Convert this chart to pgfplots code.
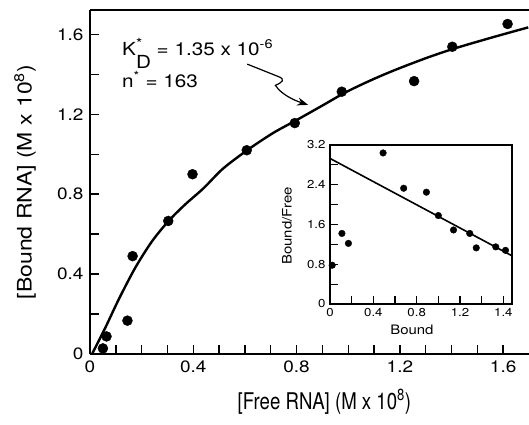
\documentclass[border=0pt]{standalone}
\usepackage{pgfplots}
\pgfplotsset{compat=1.18}
\usepackage{fontspec}
\setmainfont{TeX Gyre Heros}[FakeStretch=1.15]
\newfontfamily\narrowfont{TeX Gyre Heros}[FakeStretch=0.81]
\usetikzlibrary{arrows.meta}

% bound vs free RNA
\pgfplotstableread{
x y
0.050 0.028
0.064 0.088
0.145 0.167
0.165 0.490
0.303 0.666
0.397 0.900
0.607 1.020
0.793 1.156
0.975 1.313
1.255 1.366
1.403 1.538
1.617 1.652
}\bound

% fitted curve, traced
\pgfplotstableread{
x y
0.009 0.003
0.058 0.128
0.110 0.270
0.174 0.429
0.239 0.562
0.303 0.664
0.368 0.748
0.439 0.829
0.516 0.929
0.613 1.024
0.710 1.107
0.800 1.171
0.903 1.246
0.987 1.308
1.077 1.364
1.174 1.418
1.303 1.482
1.413 1.530
1.561 1.586
1.697 1.635
}\fit

% scatchard inset
\pgfplotstableread{
x y
0.02 0.78
0.11 1.42
0.17 1.22
0.49 3.04
0.68 2.33
0.89 2.25
1.00 1.78
1.14 1.49
1.29 1.42
1.35 1.13
1.53 1.15
1.62 1.08
}\scat

\begin{document}
\begin{tikzpicture}
\path[use as bounding box] (-90pt,-70pt) rectangle (439pt,354pt);
\begin{axis}[
  at={(0pt,0pt)}, anchor=south west,
  scale only axis, width=439pt, height=344pt,
  xmin=0, xmax=1.70, ymin=0, ymax=1.722,
  axis lines=left, axis line style={-, line width=1.6pt},
  xtick={0,0.4,0.8,1.2,1.6}, xticklabels={0,0.4,0.8,1.2,1.6},
  ytick={0,0.4,0.8,1.2,1.6}, yticklabels={0,0.4,0.8,1.2,1.6},
  minor x tick num=3, minor y tick num=1,
  tick align=inside,
  tick style={black, line width=1.3pt},
  ticklabel style={font=\fontsize{16.5}{18}\selectfont},
  /pgf/number format/assume math mode=true,
  yticklabel style={xshift=-3pt},
  xticklabel style={yshift=-3pt},
  xlabel={[Free RNA] (M x 10\textsuperscript{8})},
  ylabel={[Bound RNA] (M x 10\textsuperscript{8})},
  every axis x label/.style={at={(axis description cs:0.534,-0.14)}, anchor=center, font=\narrowfont\fontsize{23}{26}\selectfont},
  every axis y label/.style={at={(axis description cs:-0.148,0.5)}, anchor=center, rotate=90, font=\fontsize{20}{24}\selectfont},
  clip=false,
]
\draw[line width=1.6pt] (rel axis cs:0,1) -- (rel axis cs:1,1);
\addplot[line width=2.4pt, smooth, black] table[x=x, y=y] {\fit};
\addplot[only marks, mark=*, mark size=5pt, black] table[x=x, y=y] {\bound};
\node[anchor=base west, font=\fontsize{18}{20}\selectfont, inner sep=0pt]
  at (axis cs:0.124,1.496)
  {K\makebox[0pt][l]{\raisebox{0.38em}{\fontsize{14}{14}\selectfont *}}\raisebox{-0.72em}{D} = 1.35 x 10\textsuperscript{-6}};
\node[anchor=base west, font=\fontsize{18}{20}\selectfont, inner sep=0pt]
  at (axis cs:0.124,1.336)
  {n\textsuperscript{*} = 163};
\draw[line width=1.2pt, -{Stealth[length=11pt,width=8pt]}]
  (axis cs:0.609,1.451) -- (axis cs:0.727,1.390)
  .. controls (axis cs:0.760,1.375) and (axis cs:0.745,1.360) .. (axis cs:0.718,1.345)
  .. controls (axis cs:0.740,1.300) and (axis cs:0.790,1.270) .. (axis cs:0.845,1.247);
\end{axis}

% longer inward ticks of the main axis, as filled bars
\foreach \t in {0.1,0.2,0.3,0.4,0.5,0.6,0.7,0.8,0.9,1.0,1.1,1.2,1.3,1.4,1.5,1.6}
  \fill[black] ({\t*258.235pt-0.7pt},0pt) rectangle ({\t*258.235pt+0.7pt},9pt);
\foreach \t in {0.2,0.4,0.6,0.8,1.0,1.2,1.4,1.6}
  \fill[black] (0pt,{\t*199.768pt-0.7pt}) rectangle (9pt,{\t*199.768pt+0.7pt});

\begin{axis}[
  at={(240pt,50pt)}, anchor=south west,
  scale only axis, width=182pt, height=159pt,
  xmin=0, xmax=1.68, ymin=0, ymax=3.2,
  axis background/.style={fill=white},
  axis line style={line width=1.2pt},
  xtick pos=bottom, ytick pos=left,
  tick align=inside,
  tick style={black, line width=1.1pt},
  xtick={0,0.4,0.8,1.2,1.6}, xticklabels={0,0.4,0.8,1.2,1.4},
  minor xtick={0.2,0.6,1.0,1.4},
  ytick={0,0.8,1.6,2.4,3.2}, yticklabels={0,0.8,1.6,2.4,3.2},
  minor ytick={0.4,1.2,2.0,2.8},
  ticklabel style={font=\fontsize{11.5}{13}\selectfont},
  /pgf/number format/assume math mode=true,
  yticklabel style={xshift=-1pt},
  xticklabel style={yshift=-1pt},
  xlabel={Bound}, ylabel={Bound/Free},
  every axis x label/.style={at={(axis description cs:0.45,-0.164)}, anchor=center, font=\fontsize{13}{15}\selectfont},
  every axis y label/.style={at={(axis description cs:-0.236,0.49)}, anchor=center, rotate=90, font=\fontsize{13}{15}\selectfont},
  clip=false,
]
\addplot[line width=1.6pt, black] coordinates {(0,2.93) (1.68,0.97)};
\addplot[only marks, mark=*, mark size=3.3pt, black] table[x=x, y=y] {\scat};
\end{axis}

% longer inward ticks of the inset, as filled bars
\foreach \t in {0.2,0.4,0.6,0.8,1.0,1.2,1.4,1.6}
  \fill[black] ({240pt+\t*108.333pt-0.55pt},50pt) rectangle ({240pt+\t*108.333pt+0.55pt},58pt);
\foreach \t in {0.4,0.8,1.2,1.6,2.0,2.4,2.8}
  \fill[black] (240pt,{50pt+\t*49.6875pt-0.55pt}) rectangle (248pt,{50pt+\t*49.6875pt+0.55pt});
\end{tikzpicture}
\end{document}
